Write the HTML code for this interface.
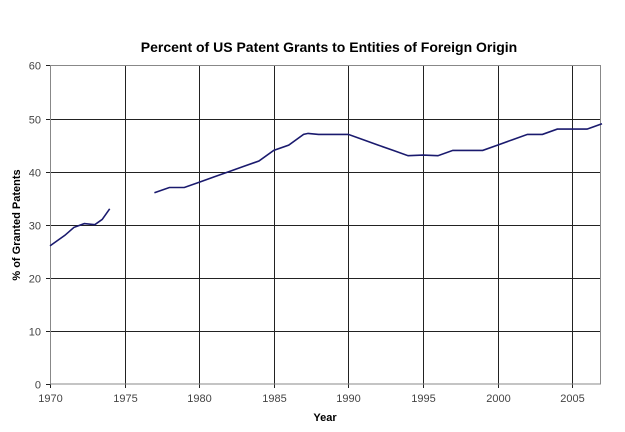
<!DOCTYPE html>
<html><head><style>
body{margin:0;background:#fff;}
svg text{font-family:"Liberation Sans",Arial,sans-serif;}
</style></head><body>
<svg id="s" width="625" height="427" xmlns="http://www.w3.org/2000/svg">
<text x="329" y="52" text-anchor="middle" font-size="14" font-weight="bold" fill="#000">Percent of US Patent Grants to Entities of Foreign Origin</text>
<g id="grid" stroke="#222" stroke-width="1"></g>
<rect x="50.5" y="65.5" width="550" height="318.5" fill="none" stroke="#888" stroke-width="1"/>
<g id="lbl" font-size="11" fill="#444"></g>
<text x="325" y="421" text-anchor="middle" font-size="11" font-weight="bold">Year</text>
<text transform="translate(20,225) rotate(-90)" text-anchor="middle" font-size="11" font-weight="bold">% of Granted Patents</text>
<polyline id="l1" fill="none" stroke="#1a1a6e" stroke-width="1.6"/>
<polyline id="l2" fill="none" stroke="#1a1a6e" stroke-width="1.6"/>
</svg>
<script>
var X=function(y){return 50+(y-1970)*14.92},Y=function(v){return 384-v*5.31};
var g=document.getElementById('grid'),l=document.getElementById('lbl'),ns='http://www.w3.org/2000/svg';
function el(p,t,a,txt){var e=document.createElementNS(ns,t);for(var k in a)e.setAttribute(k,a[k]);if(txt!=null)e.textContent=txt;p.appendChild(e);}
for(var v=0;v<=60;v+=10){var y=Math.round(Y(v))+.5;if(v>0)el(g,'line',{x1:50,x2:600,y1:y,y2:y});el(g,'line',{x1:46,x2:50,y1:y,y2:y});el(l,'text',{x:41,y:y+4,'text-anchor':'end'},v);}
for(var yr=1970;yr<=2005;yr+=5){var x=Math.round(X(yr))+.5;el(g,'line',{x1:x,x2:x,y1:65,y2:388});el(l,'text',{x:x,y:402,'text-anchor':'middle'},yr);}
var d1=[[1970,26],[1971,28],[1971.6,29.5],[1972.3,30.2],[1973,30],[1973.5,31],[1974,33]];
var d2=[[1977,36],[1978,37],[1979,37],[1980,38],[1981,39],[1982,40],[1983,41],[1984,42],[1985,44],[1986,45],[1987,47],[1987.3,47.2],[1988,47],[1989,47],[1990,47],[1991,46],[1992,45],[1993,44],[1994,43],[1995,43.1],[1996,43],[1997,44],[1998,44],[1999,44],[2000,45],[2001,46],[2002,47],[2003,47],[2004,48],[2005,48],[2006,48],[2007,49]];
function pts(d){return d.map(function(p){return X(p[0]).toFixed(1)+','+Y(p[1]).toFixed(1)}).join(' ')}
document.getElementById('l1').setAttribute('points',pts(d1));
document.getElementById('l2').setAttribute('points',pts(d2));
</script>
</body></html>
